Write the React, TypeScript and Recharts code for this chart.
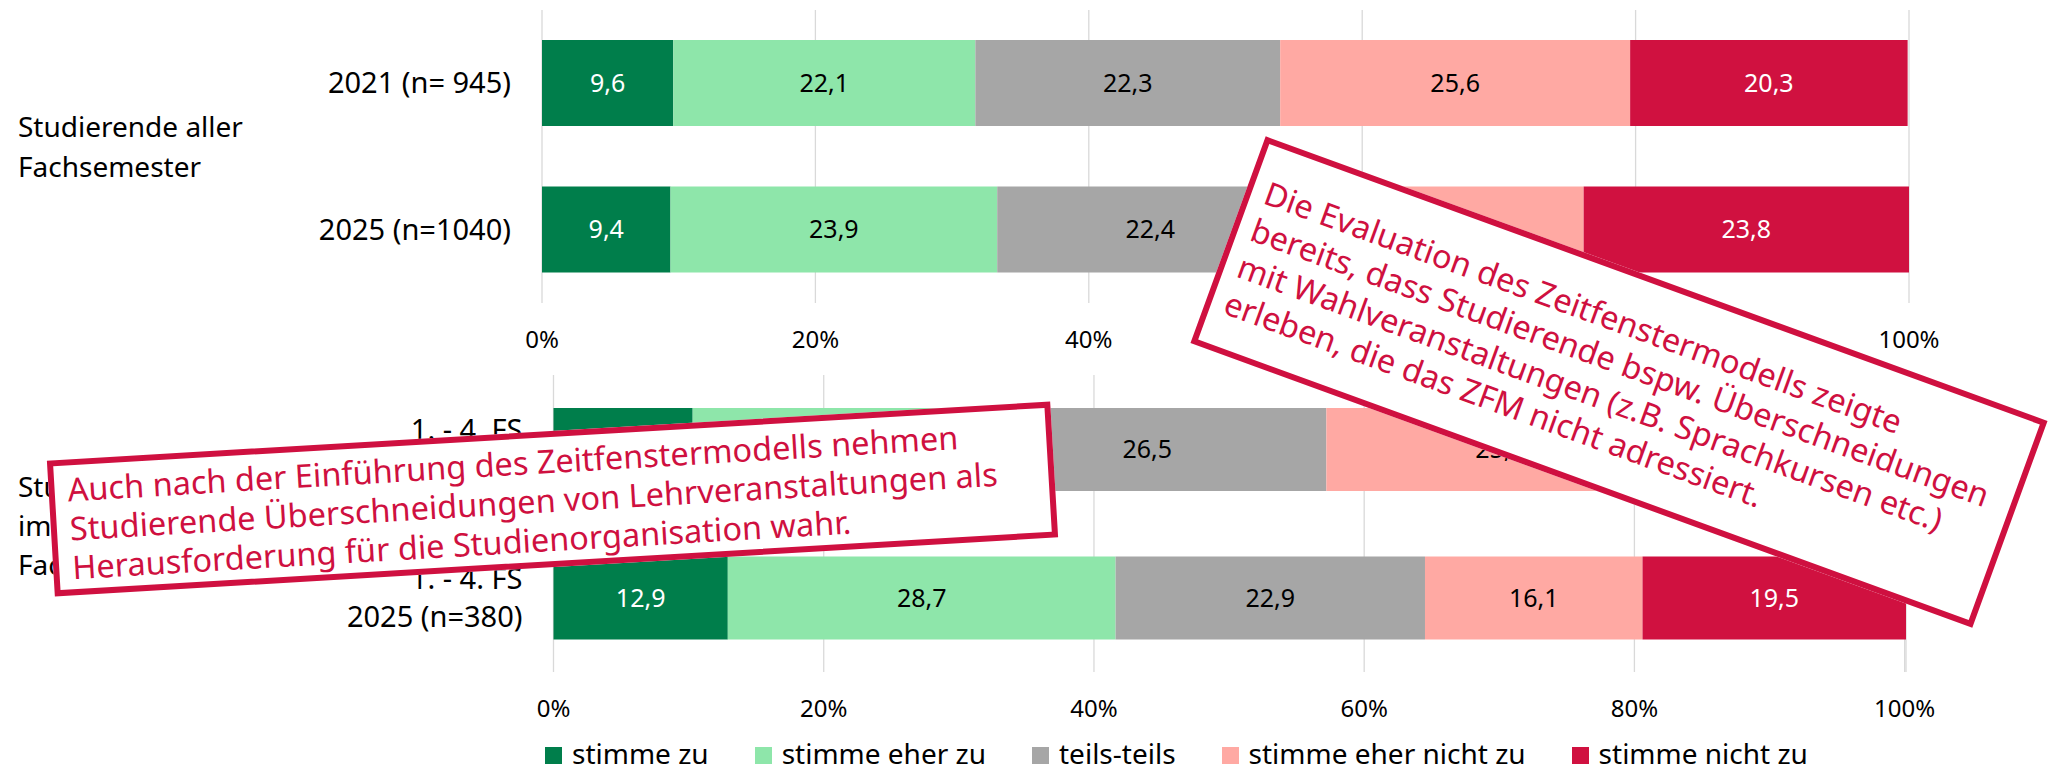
import React from "react";
import { BarChart, Bar, XAxis, YAxis, CartesianGrid, LabelList } from "recharts";

const FONT = "'Noto Sans', 'Open Sans', sans-serif";
const ACCENT = "#CF1040";

const SERIES = ["stimme zu", "stimme eher zu", "teils-teils", "stimme eher nicht zu", "stimme nicht zu"];
const COLORS = ["#007E4B", "#8EE6AA", "#A6A6A6", "#FFA9A3", "#D01140"];
const LABEL_COLORS = ["#FFFFFF", "#000000", "#000000", "#000000", "#FFFFFF"];

// Studierende aller Fachsemester
const topCategories = ["2021 (n= 945)", "2025 (n=1040)"];
const topValues = [
  [9.6, 9.4],
  [22.1, 23.9],
  [22.3, 22.4],
  [25.6, 20.5],
  [20.3, 23.8],
];

// Studierende im 1. - 4. Fachsemester
const bottomCategories = ["1. - 4. FS\n2021 (n=351)", "1. - 4. FS\n2025 (n=380)"];
const bottomValues = [
  [10.3, 12.9],
  [20.4, 28.7],
  [26.5, 22.9],
  [25.7, 16.1],
  [17.1, 19.5],
];

const xTicks = [0, 20, 40, 60, 80, 100];

const buildRows = (cats: string[], values: number[][]) =>
  cats.map((name, i) => {
    const row: Record<string, string | number> = { name };
    SERIES.forEach((s, k) => (row[s] = values[k][i]));
    return row;
  });

const fmt = (v: unknown) => Number(v).toFixed(1).replace(".", ",");

const CategoryTick = (props: any) => {
  const { x, y, payload } = props;
  const lines = String(payload.value).split("\n");
  const lh = 38;
  const start = y - ((lines.length - 1) * lh) / 2;
  return (
    <text textAnchor="end" fontSize={29} fill="#000" fontFamily={FONT}>
      {lines.map((l, i) => (
        <tspan key={i} x={x - 23} y={start + i * lh} dy="0.35em">
          {l}
        </tspan>
      ))}
    </text>
  );
};

const PercentTick = (props: any) => {
  const { x, y, payload } = props;
  return (
    <text x={x} y={y + 37} textAnchor="middle" fontSize={24} fill="#000" fontFamily={FONT}>
      {payload.value}%
    </text>
  );
};

const valueLabel = (color: string) => (p: any) => {
  const vb = p.viewBox || {};
  const x = (p.x ?? vb.x) + (p.width ?? vb.width) / 2;
  const y = (p.y ?? vb.y) + (p.height ?? vb.height) / 2;
  return (
    <text x={x} y={y} dy="0.35em" textAnchor="middle" fontSize={25} fill={color} fontFamily={FONT}>
      {fmt(p.value)}
    </text>
  );
};

function StackedChart({
  data,
  height,
  margin,
  barSize,
}: {
  data: Record<string, string | number>[];
  height: number;
  margin: { top: number; right: number; bottom: number; left: number };
  barSize: number;
}) {
  return (
    <BarChart width={2055} height={height} data={data} layout="vertical" margin={margin} barSize={barSize}>
      <CartesianGrid horizontal={false} stroke="#D9D9D9" strokeWidth={1.3} />
      <XAxis
        type="number"
        domain={[0, 100]}
        ticks={xTicks}
        axisLine={false}
        tickLine={false}
        height={30}
        tick={<PercentTick />}
        interval={0}
      />
      <YAxis
        type="category"
        dataKey="name"
        width={300}
        axisLine={false}
        tickLine={false}
        tick={<CategoryTick />}
        interval={0}
      />
      {SERIES.map((s, k) => (
        <Bar key={s} dataKey={s} stackId="a" fill={COLORS[k]} isAnimationActive={false}>
          <LabelList dataKey={s} content={valueLabel(LABEL_COLORS[k])} />
        </Bar>
      ))}
    </BarChart>
  );
}

const boxBase: React.CSSProperties = {
  position: "absolute",
  boxSizing: "border-box",
  border: `6px solid ${ACCENT}`,
  background: "#fff",
  color: ACCENT,
  fontFamily: FONT,
  lineHeight: "39px",
  whiteSpace: "nowrap",
  display: "flex",
  flexDirection: "column",
  justifyContent: "center",
  padding: "0 13px",
  transformOrigin: "center center",
};

const groupLabel: React.CSSProperties = {
  position: "absolute",
  left: 18,
  fontFamily: FONT,
  fontSize: 28,
  lineHeight: "40px",
  color: "#000",
  whiteSpace: "nowrap",
};

export default function App() {
  const topData = buildRows(topCategories, topValues);
  const bottomData = buildRows(bottomCategories, bottomValues);

  return (
    <div style={{ position: "relative", width: 2055, height: 766, overflow: "hidden", background: "#fff" }}>
      <style>{"body{margin:0;}"}</style>

      <div style={{ position: "absolute", left: 0, top: 0 }}>
        <StackedChart
          data={topData}
          height={360}
          margin={{ top: 10, right: 146, bottom: 27, left: 242 }}
          barSize={86}
        />
      </div>

      <div style={{ position: "absolute", left: 0, top: 340 }}>
        <StackedChart
          data={bottomData}
          height={380}
          margin={{ top: 35, right: 149, bottom: 18, left: 253.5 }}
          barSize={83}
        />
      </div>

      <div style={{ ...groupLabel, top: 106 }}>
        Studierende aller
        <br />
        Fachsemester
      </div>
      <div style={{ ...groupLabel, top: 467, lineHeight: "39px" }}>
        Studierende
        <br />
        im 1. - 4.
        <br />
        Fachsemester
      </div>

      {/* legend */}
      <div
        style={{
          position: "absolute",
          left: 545,
          top: 734,
          display: "flex",
          gap: 46,
          fontFamily: FONT,
          fontSize: 28,
          lineHeight: "38px",
          color: "#000",
          whiteSpace: "nowrap",
        }}
      >
        {SERIES.map((s, k) => (
          <div key={s} style={{ display: "flex", alignItems: "center" }}>
            <div style={{ width: 17, height: 17, background: COLORS[k], marginRight: 10, marginTop: 4 }} />
            <span>{s}</span>
          </div>
        ))}
      </div>

      {/* annotations */}
      <div
        style={{
          ...boxBase,
          fontSize: 32.5,
          left: 50,
          top: 431,
          width: 1005,
          height: 136,
          transform: "rotate(-3.37deg)",
        }}
      >
        <div>Auch nach der Einführung des Zeitfenstermodells nehmen</div>
        <div>Studierende Überschneidungen von Lehrveranstaltungen als</div>
        <div>Herausforderung für die Studienorganisation wahr.</div>
      </div>
      <div
        style={{
          ...boxBase,
          fontSize: 32.5,
          left: 1202.5,
          top: 271.5,
          width: 832,
          height: 220,
          transform: "rotate(20deg)",
        }}
      >
        <div>Die Evaluation des Zeitfenstermodells zeigte</div>
        <div>bereits, dass Studierende bspw. Überschneidungen</div>
        <div>mit Wahlveranstaltungen (z.B. Sprachkursen etc.)</div>
        <div>erleben, die das ZFM nicht adressiert.</div>
      </div>
    </div>
  );
}
